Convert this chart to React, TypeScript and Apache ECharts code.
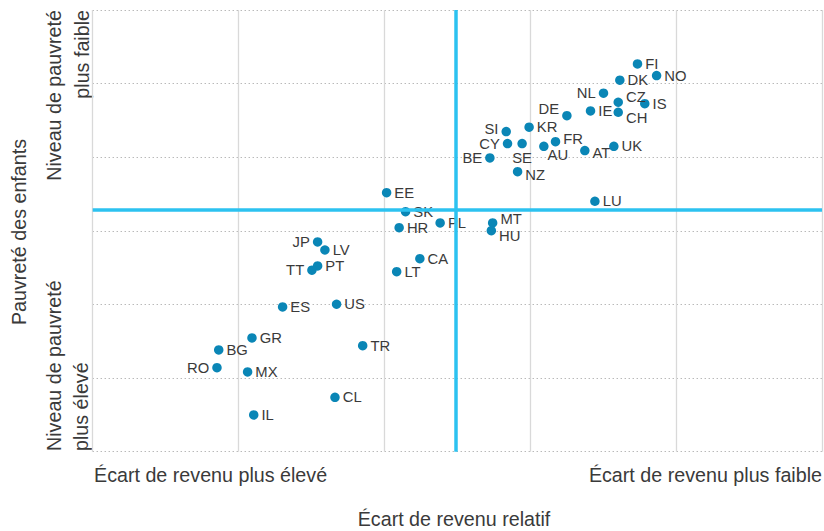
import React, { useEffect, useRef } from "react";
import * as echarts from "echarts";

// Country codes and their position on the chart (relative income gap, child poverty level)
const countries = [
  "FI", "NO", "DK", "NL", "CZ", "IS", "IE", "CH", "DE", "KR", "SI", "CY", "SE", "FR", "AU", "AT", "UK", "BE", "NZ", "LU",
  "PL", "MT", "HU", "EE", "SK", "HR", "JP", "LV", "PT", "TT", "CA", "LT", "ES", "US", "GR", "BG", "RO", "MX", "TR", "CL", "IL",
];
const incomeGap = [
  37.35, 38.66, 36.14, 35.02, 36.03, 37.85, 34.13, 36.03, 32.51, 29.92, 28.35, 28.44, 29.44, 31.73, 30.93, 33.74, 35.73, 27.23, 29.13, 34.43,
  23.82, 27.42, 27.33, 20.15, 21.45, 21.01, 15.42, 15.92, 15.42, 15.03, 22.43, 20.84, 13.02, 16.72, 10.92, 8.64, 8.52, 10.62, 18.51, 16.61, 11.04,
];
const childPoverty = [
  52.68, 51.09, 50.46, 48.70, 47.47, 47.28, 46.29, 46.11, 45.65, 44.08, 43.48, 41.85, 41.85, 42.12, 41.49, 40.90, 41.49, 39.90, 38.04, 34.02,
  31.07, 31.07, 30.03, 35.19, 32.61, 30.43, 28.49, 27.40, 25.23, 24.65, 26.22, 24.46, 19.66, 20.03, 15.45, 13.82, 11.41, 10.83, 14.40, 7.39, 4.99,
];
// Reference (median) lines
const medianIncomeGap = 24.9;
const medianChildPoverty = 32.84;

// Label placement (style only)
const labelPlace: Record<string, { position: string; offset?: number[] }> = {
  NL: { position: "left" },
  CZ: { position: "right", offset: [0, -5] },
  CH: { position: "right", offset: [0, 6] },
  DE: { position: "left", offset: [0, -7] },
  SI: { position: "left", offset: [0, -3] },
  CY: { position: "left" },
  SE: { position: "bottom" },
  FR: { position: "right", offset: [0, -3] },
  AU: { position: "right", offset: [-4, 9] },
  AT: { position: "right", offset: [0, 2] },
  BE: { position: "left" },
  NZ: { position: "right", offset: [0, 3] },
  MT: { position: "right", offset: [0, -3.5] },
  HU: { position: "right", offset: [0, 5.5] },
  JP: { position: "left" },
  TT: { position: "left" },
  RO: { position: "left" },
};

const TEXT = "#3a3a3a";
const FONT = "'Liberation Sans', Arial, sans-serif";
const AXIS_FONT = `19.7px ${FONT}`;

export default function App() {
  const ref = useRef<HTMLDivElement>(null);
  useEffect(() => {
    if (!ref.current) return;
    const chart = echarts.init(ref.current, undefined, { renderer: "svg" });
    const data = countries.map((c, i) => {
      const p = labelPlace[c] || { position: "right" };
      return {
        name: c,
        value: [incomeGap[i], childPoverty[i]],
        label: { position: p.position, offset: p.offset || [0, 0] },
      };
    });
    chart.setOption({
      animation: false,
      textStyle: { fontFamily: FONT },
      grid: { left: 92.7, right: 2, top: 10, bottom: 79.3, containLabel: false },
      xAxis: {
        type: "value",
        min: 0,
        max: 50,
        interval: 10,
        axisLine: { show: false },
        axisTick: { show: false },
        axisLabel: { show: false },
        splitLine: { show: true, lineStyle: { color: "#d9d9d9", width: 1.3, type: "solid" } },
      },
      yAxis: {
        type: "value",
        min: 0,
        max: 60,
        interval: 10,
        axisLine: { show: false },
        axisTick: { show: false },
        axisLabel: { show: false },
        splitLine: { show: true, lineStyle: { color: "#9a9a9a", width: 1, type: [1, 3] } },
      },
      series: [
        {
          type: "scatter",
          symbolSize: 9.5,
          itemStyle: { color: "#0a86b6", opacity: 1 },
          label: {
            show: true,
            formatter: "{b}",
            color: TEXT,
            fontSize: 14.8,
            lineHeight: 13,
            fontFamily: FONT,
            distance: 3,
          },
          data,
          markLine: {
            silent: true,
            symbol: "none",
            label: { show: false },
            lineStyle: { color: "#2cc2f0", width: 3.5, type: "solid", opacity: 1 },
            data: [{ xAxis: medianIncomeGap }, { yAxis: medianChildPoverty }],
          },
          z: 3,
        },
      ],
      graphic: [
        { type: "text", x: 94, y: 475, style: { text: "Écart de revenu plus élevé", fill: TEXT, font: AXIS_FONT, textAlign: "left", textVerticalAlign: "middle" } },
        { type: "text", x: 822, y: 475, style: { text: "Écart de revenu plus faible", fill: TEXT, font: AXIS_FONT, textAlign: "right", textVerticalAlign: "middle" } },
        { type: "text", x: 454, y: 519, style: { text: "Écart de revenu relatif", fill: TEXT, font: AXIS_FONT, textAlign: "center", textVerticalAlign: "middle" } },
        { type: "text", x: 19, y: 232, rotation: Math.PI / 2, style: { text: "Pauvreté des enfants", fill: TEXT, font: AXIS_FONT, textAlign: "center", textVerticalAlign: "middle" } },
        { type: "text", x: 54, y: 10, rotation: Math.PI / 2, style: { text: "Niveau de pauvreté", fill: TEXT, font: AXIS_FONT, textAlign: "right", textVerticalAlign: "middle" } },
        { type: "text", x: 82, y: 10, rotation: Math.PI / 2, style: { text: "plus faible", fill: TEXT, font: AXIS_FONT, textAlign: "right", textVerticalAlign: "middle" } },
        { type: "text", x: 54, y: 451, rotation: Math.PI / 2, style: { text: "Niveau de pauvreté", fill: TEXT, font: AXIS_FONT, textAlign: "left", textVerticalAlign: "middle" } },
        { type: "text", x: 81, y: 451, rotation: Math.PI / 2, style: { text: "plus élevé", fill: TEXT, font: AXIS_FONT, textAlign: "left", textVerticalAlign: "middle" } },
      ],
    });
    return () => chart.dispose();
  }, []);
  return <div ref={ref} style={{ width: 824, height: 531, position: "absolute", left: 0, top: 0 }} />;
}
